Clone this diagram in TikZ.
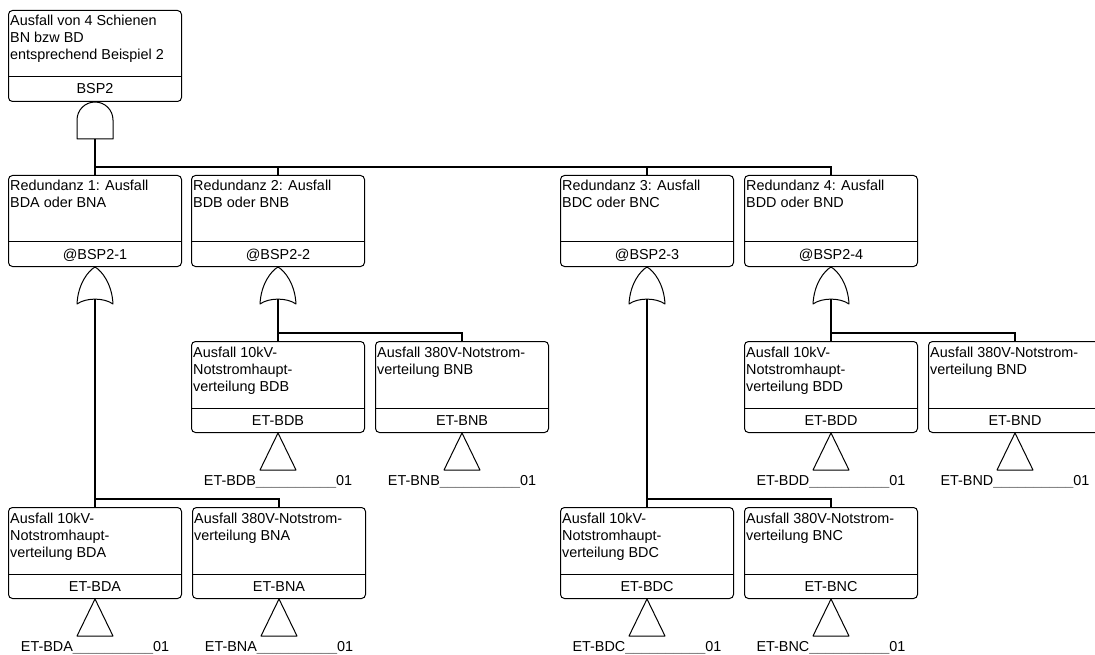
\documentclass[tikz,border=0pt]{standalone}
\usepackage{fontspec}
\usepackage{xcolor}
\setmainfont{Liberation Sans}
\newcommand{\usl}{{\color{black!55}\_\_\_\_\_\_\_\_\_\_}}
\begin{document}
\begin{tikzpicture}[x=1pt,y=1pt,
  every node/.style={font=\fontsize{14.4}{17}\selectfont},
  ftb/.style={draw, line width=1pt, rounded corners=4pt, minimum width=173pt, minimum height=91pt, inner sep=0pt, anchor=north west},
  desc/.style={inner sep=0pt, anchor=base west},
  idt/.style={inner sep=0pt, anchor=base},
  conn/.style={line width=1.2pt},
  gate/.style={line width=1pt, line join=round},
  lbl/.style={inner sep=0pt, anchor=base}]
\newcommand{\ftbox}[5]{%
  \node[ftb] (#1) at (#2,-#3) {};
  \draw[line width=1pt] ([yshift=25pt]#1.south west) -- ([yshift=25pt]#1.south east);
  \node[desc] (#1d) at ([xshift=2pt,yshift=-16pt]#1.north west) {\parbox[t]{170pt}{\raggedright #4}};
  \node[idt] (#1i) at ([yshift=8pt]#1.south) {#5};
}
\newcommand{\andgate}[2]{%
  \draw[gate] ([xshift=-18pt,yshift=-37pt]#2.south) -- ++(0,19) arc[start angle=180,end angle=0,radius=18] -- ++(0,-19) -- cycle;
  \coordinate (#1) at ([yshift=-37pt]#2.south);
}
\newcommand{\orgate}[2]{%
  \draw[gate] ([xshift=-18pt,yshift=-37pt]#2.south) .. controls +(1,20) and +(-7,-4) .. (#2.south)
     .. controls +(7,-4) and +(-1,20) .. ([xshift=18pt,yshift=-37pt]#2.south)
     .. controls +(-9,6.5) and +(9,6.5) .. ([xshift=-18pt,yshift=-37pt]#2.south) -- cycle;
  \coordinate (#1) at ([yshift=-32pt]#2.south);
}
\newcommand{\evt}[3]{%
  \draw[gate] (#2.south) -- ++(-18,-37) -- ++(36,0) -- cycle;
  \node[lbl] (#1) at ([yshift=-52pt]#2.south) {#3};
}
\useasboundingbox (0,0) rectangle (1095,-655);
\clip (0,0) rectangle (1095,-655);

% top
\ftbox{top}{8}{10}{Ausfall von 4 Schienen\\BN bzw BD\\entsprechend Beispiel 2}{BSP2}
\andgate{g0}{top}

% level 2
\ftbox{r1}{8}{175}{Redundanz 1: Ausfall\\BDA oder BNA}{@BSP2-1}
\ftbox{r2}{191}{175}{Redundanz 2: Ausfall\\BDB oder BNB}{@BSP2-2}
\ftbox{r3}{560}{175}{Redundanz 3: Ausfall\\BDC oder BNC}{@BSP2-3}
\ftbox{r4}{744}{175}{Redundanz 4: Ausfall\\BDD oder BND}{@BSP2-4}
\orgate{g1}{r1}
\orgate{g2}{r2}
\orgate{g3}{r3}
\orgate{g4}{r4}

% level 3 (B, D)
\ftbox{eBDB}{191}{341}{Ausfall 10kV-\\Notstromhaupt-\\verteilung BDB}{ET-BDB}
\ftbox{eBNB}{375}{341}{Ausfall 380V-Notstrom-\\verteilung BNB}{ET-BNB}
\ftbox{eBDD}{744}{341}{Ausfall 10kV-\\Notstromhaupt-\\verteilung BDD}{ET-BDD}
\ftbox{eBND}{928}{341}{Ausfall 380V-Notstrom-\\verteilung BND}{ET-BND}

% level 4 (A, C)
\ftbox{eBDA}{8}{507}{Ausfall 10kV-\\Notstromhaupt-\\verteilung BDA}{ET-BDA}
\ftbox{eBNA}{192}{507}{Ausfall 380V-Notstrom-\\verteilung BNA}{ET-BNA}
\ftbox{eBDC}{560}{507}{Ausfall 10kV-\\Notstromhaupt-\\verteilung BDC}{ET-BDC}
\ftbox{eBNC}{744}{507}{Ausfall 380V-Notstrom-\\verteilung BNC}{ET-BNC}

% basic events
\evt{lBDB}{eBDB}{ET-BDB\usl 01}
\evt{lBNB}{eBNB}{ET-BNB\usl 01}
\evt{lBDD}{eBDD}{ET-BDD\usl 01}
\evt{lBND}{eBND}{ET-BND\usl 01}
\evt{lBDA}{eBDA}{ET-BDA\usl 01}
\evt{lBNA}{eBNA}{ET-BNA\usl 01}
\evt{lBDC}{eBDC}{ET-BDC\usl 01}
\evt{lBNC}{eBNC}{ET-BNC\usl 01}

% connectors
\draw[conn] (g0) -- (r1.north);
\draw[conn] ([yshift=8pt]r1.north) -| (r2.north);
\draw[conn] ([yshift=8pt]r1.north) -| (r3.north);
\draw[conn] ([yshift=8pt]r1.north) -| (r4.north);

\draw[conn] (g1) -- (eBDA.north);
\draw[conn] ([yshift=8pt]eBDA.north) -| (eBNA.north);
\draw[conn] (g3) -- (eBDC.north);
\draw[conn] ([yshift=8pt]eBDC.north) -| (eBNC.north);

\draw[conn] (g2) -- (eBDB.north);
\draw[conn] ([yshift=8pt]eBDB.north) -| (eBNB.north);
\draw[conn] (g4) -- (eBDD.north);
\draw[conn] ([yshift=8pt]eBDD.north) -| (eBND.north);
\end{tikzpicture}
\end{document}
